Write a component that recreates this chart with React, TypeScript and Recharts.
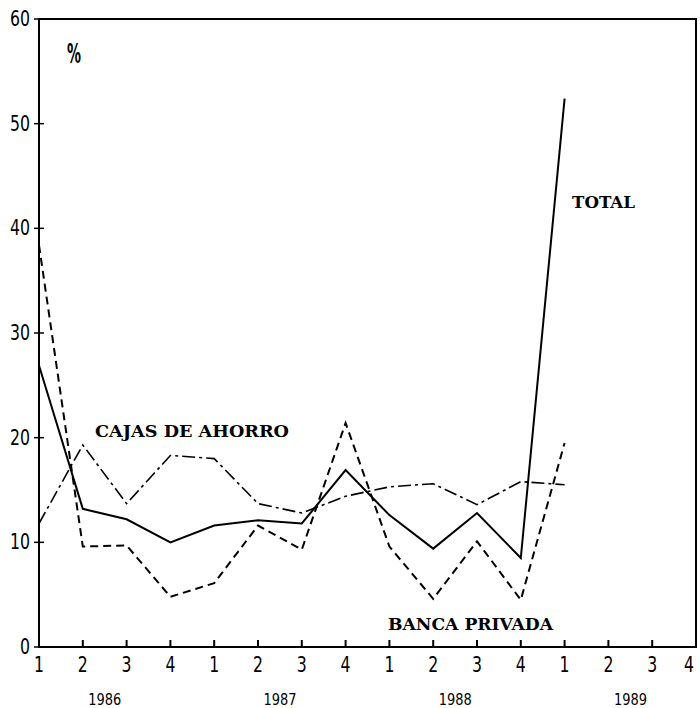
import React from 'react';
import { LineChart, Line, XAxis, YAxis, ReferenceArea } from 'recharts';

const periods = ['1986-1','1986-2','1986-3','1986-4','1987-1','1987-2','1987-3','1987-4','1988-1','1988-2','1988-3','1988-4','1989-1','1989-2','1989-3','1989-4'];
const quarterLabels = ['1','2','3','4','1','2','3','4','1','2','3','4','1','2','3','4'];
const years = ['1986','1987','1988','1989'];
const total = [26.9, 13.2, 12.2, 10.0, 11.6, 12.1, 11.8, 16.9, 12.6, 9.4, 12.8, 8.5, 52.4, null, null, null];
const bancaPrivada = [38.4, 9.6, 9.7, 4.8, 6.1, 11.6, 9.3, 21.4, 9.6, 4.6, 10.1, 4.5, 19.5, null, null, null];
const cajasAhorro = [11.8, 19.3, 13.7, 18.3, 18.0, 13.7, 12.8, 14.4, 15.3, 15.6, 13.6, 15.8, 15.5, null, null, null];
const yTicks = [0, 10, 20, 30, 40, 50, 60];

const data = periods.map((p, i) => ({
  period: p,
  total: total[i],
  banca: bancaPrivada[i],
  cajas: cajasAhorro[i],
}));

const numFont = "'DejaVu Sans', sans-serif";
const labelFont = "'DejaVu Serif', 'Liberation Serif', serif";

const XTick = (props: any) => {
  const { x, y, index } = props;
  const q = quarterLabels[index];
  const isYear = index % 4 === 1;
  const tx = Math.min(x - 5, 684);
  return (
    <g>
      <line x1={x} y1={y} x2={x} y2={y - 7} stroke="#000" strokeWidth={2} />
      <text x={tx} y={y + 25} textLength={10} lengthAdjust="spacingAndGlyphs" fontFamily={numFont} fontSize={21} fill="#000">{q}</text>
      {isYear && (
        <text x={x + 22 - 16.5} y={y + 58} textLength={33} lengthAdjust="spacingAndGlyphs" fontFamily={numFont} fontSize={16} fill="#000">{years[Math.floor(index / 4)]}</text>
      )}
    </g>
  );
};

const YTick = (props: any) => {
  const { x, y, payload } = props;
  const s = String(payload.value);
  const w = 10 * s.length;
  return (
    <g>
      <line x1={x - 5} y1={y} x2={x + 5} y2={y} stroke="#000" strokeWidth={1.5} />
      <text x={x - 9 - w} y={y + 7} textLength={w} lengthAdjust="spacingAndGlyphs" fontFamily={numFont} fontSize={21} fill="#000">{s}</text>
    </g>
  );
};

export default function App() {
  return (
    <div style={{ position: 'absolute', left: 0, top: 0, width: 700, height: 708, background: '#fff' }}>
      <LineChart width={700} height={708} data={data} margin={{ top: 19, right: 4, left: 0, bottom: 0 }}>
        <XAxis
          dataKey="period"
          interval={0}
          height={61}
          tickSize={0}
          tickMargin={0}
          tickLine={false}
          axisLine={{ stroke: '#000', strokeWidth: 2 }}
          tick={<XTick />}
        />
        <YAxis
          domain={[0, 60]}
          ticks={yTicks}
          width={39}
          tickSize={0}
          tickMargin={0}
          tickLine={false}
          axisLine={{ stroke: '#000', strokeWidth: 2 }}
          tick={<YTick />}
        />
        <ReferenceArea x1="1986-1" x2="1989-4" y1={0} y2={60} fill="none" stroke="#000" strokeWidth={2} ifOverflow="visible" />
        <Line dataKey="cajas" stroke="#000" strokeWidth={1.6} strokeDasharray="13 4 3 4" dot={false} isAnimationActive={false} />
        <Line dataKey="banca" stroke="#000" strokeWidth={2} strokeDasharray="8 5" dot={false} isAnimationActive={false} />
        <Line dataKey="total" stroke="#000" strokeWidth={2} dot={false} isAnimationActive={false} />
      </LineChart>
      <svg width={700} height={708} style={{ position: 'absolute', left: 0, top: 0, pointerEvents: 'none' }}>
        <text x={67} y={63} textLength={14} lengthAdjust="spacingAndGlyphs" fontFamily={numFont} fontWeight="bold" fontSize={27} fill="#000">%</text>
        <text x={572} y={208} textLength={63} lengthAdjust="spacingAndGlyphs" fontFamily={labelFont} fontWeight="bold" fontSize={17} fill="#000">TOTAL</text>
        <text x={95} y={437} textLength={194} lengthAdjust="spacingAndGlyphs" fontFamily={labelFont} fontWeight="bold" fontSize={17} fill="#000">CAJAS DE AHORRO</text>
        <text x={388} y={630} textLength={165} lengthAdjust="spacingAndGlyphs" fontFamily={labelFont} fontWeight="bold" fontSize={17} fill="#000">BANCA PRIVADA</text>
      </svg>
    </div>
  );
}
